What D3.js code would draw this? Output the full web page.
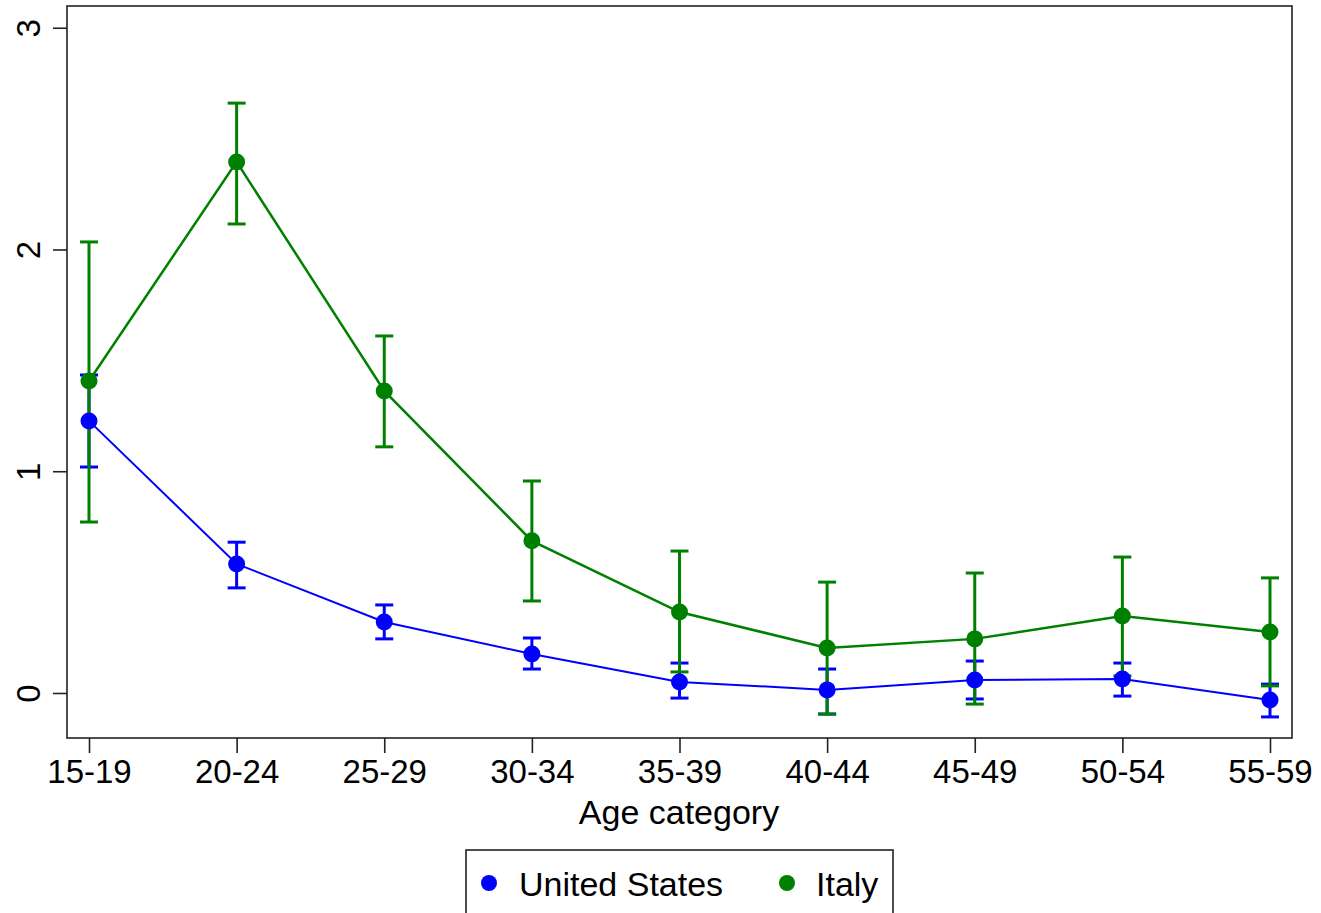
<!DOCTYPE html>
<html>
<head>
<meta charset="utf-8">
<script src="https://cdn.jsdelivr.net/npm/d3@7"></script>
<style>
  body { margin: 0; background: #fff; }
  text { font-family: "Liberation Sans", Arial, sans-serif; fill: #000; }
</style>
</head>
<body>
<svg id="chart" width="1321" height="913"></svg>
<script>
const ageCategories = ["15-19", "20-24", "25-29", "30-34", "35-39", "40-44", "45-49", "50-54", "55-59"];

const usEstimate = [1.227, 0.582, 0.32, 0.176, 0.05, 0.014, 0.059, 0.063, -0.032];
const usLower    = [1.019, 0.474, 0.244, 0.108, -0.023, -0.095, -0.027, -0.014, -0.108];
const usUpper    = [1.434, 0.68, 0.397, 0.248, 0.135, 0.108, 0.144, 0.135, 0.04];

const italyEstimate = [1.407, 2.395, 1.362, 0.686, 0.365, 0.203, 0.244, 0.347, 0.275];
const italyLower    = [0.771, 2.115, 1.11, 0.415, 0.095, -0.095, -0.05, 0.077, 0.032];
const italyUpper    = [2.034, 2.66, 1.61, 0.956, 0.64, 0.5, 0.541, 0.613, 0.519];

const yTicks = [0, 1, 2, 3];

const svg = d3.select("#chart");
const frame = { left: 67, right: 1292, top: 6, bottom: 738 };

const x = d3.scalePoint()
    .domain(ageCategories)
    .range([89, 1270]);

const y = d3.scaleLinear()
    .domain([-0.203, 3.098])
    .range([frame.bottom, frame.top]);

// plot frame
svg.append("rect")
    .attr("x", frame.left)
    .attr("y", frame.top)
    .attr("width", frame.right - frame.left)
    .attr("height", frame.bottom - frame.top)
    .attr("fill", "none")
    .attr("stroke", "#222")
    .attr("stroke-width", 1.6);

// y axis
const yAxis = svg.append("g")
    .attr("transform", `translate(${frame.left},0)`)
    .call(d3.axisLeft(y).tickValues(yTicks).tickSize(14).tickPadding(0).tickFormat(d3.format("d")));
yAxis.select(".domain").remove();
yAxis.selectAll(".tick line").attr("stroke", "#222").attr("stroke-width", 1.6);
yAxis.selectAll(".tick text")
    .attr("x", 0).attr("dy", null)
    .attr("text-anchor", "middle")
    .attr("transform", "translate(-39,0) rotate(-90)")
    .attr("dominant-baseline", "central")
    .style("font-size", "33px")
    .style("font-family", "'Liberation Sans', Arial, sans-serif");

// x axis
const xAxis = svg.append("g")
    .attr("transform", `translate(0,${frame.bottom})`)
    .call(d3.axisBottom(x).tickSize(15).tickPadding(7));
xAxis.select(".domain").remove();
xAxis.selectAll(".tick line").attr("stroke", "#222").attr("stroke-width", 1.6);
xAxis.selectAll(".tick text")
    .style("font-size", "33px")
    .style("font-family", "'Liberation Sans', Arial, sans-serif");

svg.append("text")
    .attr("x", 679)
    .attr("y", 824)
    .attr("text-anchor", "middle")
    .style("font-size", "34px")
    .text("Age category");

const series = [
    { name: "United States", color: "#0000ff", est: usEstimate, lo: usLower, hi: usUpper, lw: 2 },
    { name: "Italy", color: "#008000", est: italyEstimate, lo: italyLower, hi: italyUpper, lw: 2.5 }
];

const line = d3.line()
    .x((d, i) => x(ageCategories[i]))
    .y(d => y(d));

// error bars first (US, then Italy)
series.forEach(s => {
    const g = svg.append("g");
    ageCategories.forEach((c, i) => {
        const cx = x(c);
        g.append("line")
            .attr("x1", cx).attr("x2", cx)
            .attr("y1", y(s.lo[i])).attr("y2", y(s.hi[i]))
            .attr("stroke", s.color).attr("stroke-width", 3);
        [s.lo[i], s.hi[i]].forEach(v => {
            g.append("line")
                .attr("x1", cx - 9).attr("x2", cx + 9)
                .attr("y1", y(v)).attr("y2", y(v))
                .attr("stroke", s.color).attr("stroke-width", 3);
        });
    });
});

// connected lines with markers on top
series.forEach(s => {
    const g = svg.append("g");
    g.append("path")
        .datum(s.est)
        .attr("d", line)
        .attr("fill", "none")
        .attr("stroke", s.color)
        .attr("stroke-width", s.lw);

    g.selectAll("circle")
        .data(s.est)
        .join("circle")
        .attr("cx", (d, i) => x(ageCategories[i]))
        .attr("cy", d => y(d))
        .attr("r", 8.5)
        .attr("fill", s.color);
});

// legend
const legend = svg.append("g");
legend.append("rect")
    .attr("x", 466).attr("y", 850)
    .attr("width", 427).attr("height", 80)
    .attr("fill", "#fff")
    .attr("stroke", "#222")
    .attr("stroke-width", 1.6);

const legendItems = [
    { name: "United States", color: "#0000ff", mx: 489, tx: 519 },
    { name: "Italy", color: "#008000", mx: 787, tx: 816 }
];
legendItems.forEach(it => {
    legend.append("circle")
        .attr("cx", it.mx).attr("cy", 883)
        .attr("r", 8).attr("fill", it.color);
    legend.append("text")
        .attr("x", it.tx).attr("y", 896)
        .style("font-size", "34px")
        .text(it.name);
});
</script>
</body>
</html>
